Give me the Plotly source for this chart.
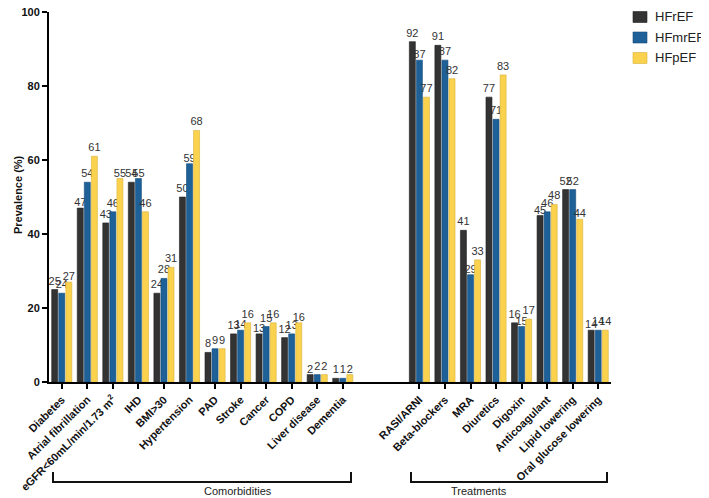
import plotly.graph_objects as go

comorbidities = ["Diabetes", "Atrial fibrillation", "eGFR&lt;60mL/min/1.73 m<sup>2</sup>", "IHD", "BMI&gt;30",
                 "Hypertension", "PAD", "Stroke", "Cancer", "COPD", "Liver disease", "Dementia"]
treatments = ["RASI/ARNI", "Beta-blockers", "MRA", "Diuretics", "Digoxin", "Anticoagulant",
              "Lipid lowering", "Oral glucose lowering"]

hfref_com = [25, 47, 43, 54, 24, 50, 8, 13, 13, 12, 2, 1]
hfmref_com = [24, 54, 46, 55, 28, 59, 9, 14, 15, 13, 2, 1]
hfpef_com = [27, 61, 55, 46, 31, 68, 9, 16, 16, 16, 2, 2]

hfref_tr = [92, 91, 41, 77, 16, 45, 52, 14]
hfmref_tr = [87, 87, 29, 71, 15, 46, 52, 14]
hfpef_tr = [77, 82, 33, 83, 17, 48, 44, 14]

y_ticks = [0, 20, 40, 60, 80, 100]

series_names = ["HFrEF", "HFmrEF", "HFpEF"]
colors = ["#333333", "#1d6198", "#fbd24e"]
lines = ["#222222", "#144a78", "#d9b23a"]

labels = comorbidities + treatments
positions = list(range(len(comorbidities))) + [len(comorbidities) + 2 + i for i in range(len(treatments))]

values = [hfref_com + hfref_tr, hfmref_com + hfmref_tr, hfpef_com + hfpef_tr]

FONT = "Liberation Sans, Arial"

# the page shifts the figure 8px right and down; geometry below is in screenshot pixels
OX, OY = 8, 8
W, H = 709 - OX, 498 - OY
PL, PR, PT, PB = 49, 611, 12, 382
PW, PH = PR - PL, PB - PT


def px(sx):
    return (sx - PL) / PW


def py(sy):
    return (PB - sy) / PH


fig = go.Figure()
for name, vals, c, lc in zip(series_names, values, colors, lines):
    fig.add_trace(go.Bar(
        x=positions, y=vals, name=name,
        marker=dict(color=c, line=dict(color=lc, width=0.6)),
        text=[str(v) for v in vals], textposition="outside",
        textfont=dict(size=11, color="#333333", family=FONT),
        constraintext="none", cliponaxis=False,
    ))

fig.update_layout(
    width=W, height=H,
    margin=dict(l=PL - OX, r=W - (PR - OX), t=PT - OY, b=H - (PB - OY), autoexpand=False),
    paper_bgcolor="white", plot_bgcolor="white",
    barmode="group", bargap=0.17, bargroupgap=0.15,
    font=dict(family=FONT, color="#000000"),
    showlegend=False,
)

fig.update_xaxes(
    range=[-0.5, len(positions) + 1.5], tickmode="array", tickvals=positions,
    ticktext=["<b>" + t + "</b>" for t in labels],
    tickangle=-45, tickfont=dict(size=11, color="#111111", family=FONT),
    showline=True, linecolor="#000000", linewidth=2,
    ticks="outside", ticklen=5, tickwidth=2, tickcolor="#000000",
    showgrid=False, zeroline=False, automargin=False,
)
fig.update_yaxes(
    range=[0, 100.01], tickmode="array", tickvals=y_ticks,
    ticktext=["<b>%d</b>" % v for v in y_ticks],
    tickfont=dict(size=11, color="#111111"), ticklabeloverflow="allow",
    showline=True, linecolor="#000000", linewidth=2,
    ticks="outside", ticklen=5, tickwidth=2, tickcolor="#000000",
    showgrid=False, zeroline=False, automargin=False,
)

fig.add_annotation(x=px(10), y=py(195), xref="paper", yref="paper", text="<b>Prevalence (%)</b>",
                   textangle=-90, showarrow=False, font=dict(size=11, color="#111111", family=FONT))

# Legend (drawn manually to keep the plot area fixed)
for i, (name, c, lc) in enumerate(zip(series_names, colors, lines)):
    yc = 17 + 20.5 * i
    fig.add_shape(type="rect", xref="paper", yref="paper",
                  x0=px(633), x1=px(647), y0=py(yc + 5.5), y1=py(yc - 5.5),
                  fillcolor=c, line=dict(color=lc, width=0.6))
    fig.add_annotation(x=px(653), y=py(yc), xref="paper", yref="paper",
                       text=name, showarrow=False, xanchor="left", yanchor="middle",
                       font=dict(size=13, color="#222222", family=FONT))


# Brackets
def bracket(x0, x1, text):
    fig.add_shape(type="path", xref="paper", yref="paper",
                  path=f"M {px(x0)} {py(472)} L {px(x0)} {py(482)} L {px(x1)} {py(482)} L {px(x1)} {py(472)}",
                  line=dict(color="#111111", width=2))
    fig.add_annotation(x=px((x0 + x1) / 2), y=py(491), xref="paper", yref="paper", text=text,
                       showarrow=False, yanchor="middle", font=dict(size=11, color="#222222", family=FONT))


bracket(53, 351, "Comorbidities")
bracket(411, 607, "Treatments")

fig.write_html("out.html")
